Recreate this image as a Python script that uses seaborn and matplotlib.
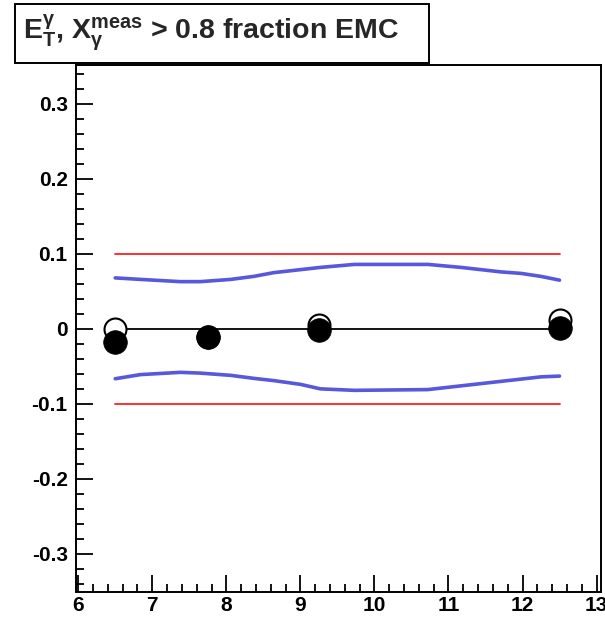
import numpy as np
import pandas as pd
import matplotlib
matplotlib.use("Agg")
import matplotlib.pyplot as plt
from matplotlib.ticker import MultipleLocator
from matplotlib.patches import Rectangle
import seaborn as sns

# ---- data ----
pt_points = [6.5, 7.75, 9.25, 12.5]
filled_vals = [-0.017, -0.011, -0.002, 0.001]
open_vals = [0.0, -0.011, 0.005, 0.012]

band_x = [6.5, 6.84, 7.38, 7.65, 8.06, 8.37, 8.64, 9.0, 9.27, 9.73, 10.72, 11.17, 11.44, 11.71, 11.98, 12.25, 12.5]
band_upper = [0.068, 0.066, 0.063, 0.063, 0.066, 0.070, 0.075, 0.079, 0.082, 0.086, 0.086, 0.082, 0.079, 0.076, 0.074, 0.070, 0.065]
band_lower = [-0.0665, -0.061, -0.058, -0.059, -0.062, -0.066, -0.069, -0.074, -0.080, -0.082, -0.081, -0.076, -0.073, -0.070, -0.067, -0.064, -0.063]

limit_x = [6.5, 12.5]
limit_hi = [0.1, 0.1]
limit_lo = [-0.1, -0.1]
zero_line = [0.0, 0.0]

ytick_vals = [-0.3, -0.2, -0.1, 0, 0.1, 0.2, 0.3]
ytick_labels = ['-0.3', '-0.2', '-0.1', '0', '0.1', '0.2', '0.3']

title = r'$\mathbf{E}_{\mathbf{T}}^{\gamma}$, $\mathbf{X}_{\gamma}^{\mathbf{meas}}$ > 0.8 fraction EMC'

# ---- style ----
sns.set_style("white")
plt.rcParams['font.family'] = ['Liberation Sans', 'DejaVu Sans']
plt.rcParams['font.weight'] = 'bold'
plt.rcParams['mathtext.fontset'] = 'custom'
plt.rcParams['mathtext.rm'] = 'Liberation Sans:bold'
plt.rcParams['mathtext.bf'] = 'Liberation Sans:bold'
plt.rcParams['mathtext.it'] = 'Liberation Sans:bold'
plt.rcParams['mathtext.sf'] = 'Liberation Sans:bold'

W, H = 605, 620
fig = plt.figure(figsize=(6.05, 6.2), dpi=100)
ax = fig.add_axes([76 / W, 1 - 592 / H, (601 - 76) / W, (592 - 65) / H])

blue = '#5858dc'
df_up = pd.DataFrame({'x': band_x, 'y': band_upper})
df_lo = pd.DataFrame({'x': band_x, 'y': band_lower})
sns.lineplot(data=df_up, x='x', y='y', ax=ax, color=blue, lw=2.6, sort=False)
sns.lineplot(data=df_lo, x='x', y='y', ax=ax, color=blue, lw=2.6, sort=False)

sns.lineplot(x=limit_x, y=limit_hi, ax=ax, color='#ff2020', lw=1.3)
sns.lineplot(x=limit_x, y=limit_lo, ax=ax, color='#ff2020', lw=1.3)
sns.lineplot(x=limit_x, y=zero_line, ax=ax, color='black', lw=1.3)

sns.scatterplot(x=pt_points, y=open_vals, ax=ax, s=250, facecolor='white',
                edgecolor='black', linewidth=1.5, zorder=5)
sns.scatterplot(x=pt_points, y=filled_vals, ax=ax, s=290, color='black',
                edgecolor='black', linewidth=0.5, zorder=6)

ax.set_xlim(5.97, 13.06)
ax.set_ylim(-0.351, 0.352)
ax.xaxis.set_major_locator(MultipleLocator(1))
ax.xaxis.set_minor_locator(MultipleLocator(0.2))
ax.yaxis.set_minor_locator(MultipleLocator(0.02))
ax.set_yticks(ytick_vals)
ax.set_yticklabels(ytick_labels)
ax.tick_params(axis='both', which='both', direction='in', bottom=True, left=True,
               top=False, right=False, width=1.3, labelsize=15, colors='black')
ax.tick_params(axis='both', which='major', length=12)
ax.tick_params(axis='both', which='minor', length=6)
ax.tick_params(axis='y', which='major', pad=6)
ax.tick_params(axis='x', which='major', pad=3)
for lbl in ax.get_xticklabels() + ax.get_yticklabels():
    lbl.set_fontweight('bold')
ax.set_xlabel('')
ax.set_ylabel('')
for sp in ax.spines.values():
    sp.set_linewidth(1.4)
    sp.set_color('black')

# title box (ROOT style pave)
fig.patches.append(Rectangle((15 / W, 1 - 63 / H), (429 - 15) / W, (63 - 4) / H,
                             transform=fig.transFigure, facecolor='white',
                             edgecolor='black', linewidth=1.4, zorder=10))
fig.text(23 / W, 1 - 33 / H, title, fontsize=20.5, fontweight='bold', va='center',
         ha='left', zorder=11)

fig.savefig('out.png', dpi=100)
